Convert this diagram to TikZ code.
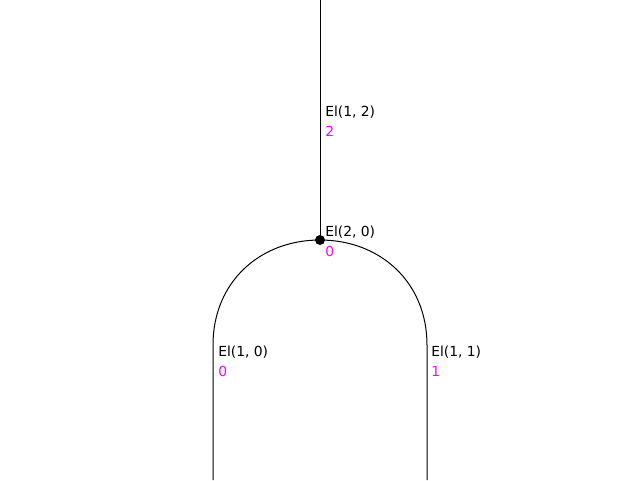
\documentclass[tikz,border=0pt]{standalone}
\usepackage{fontspec}
\setmainfont{DejaVu Sans}
\definecolor{mag}{RGB}{255,0,255}
\begin{document}
\begin{tikzpicture}[x=0.75pt,y=-0.75pt,
  edge/.style={draw=black,line width=0.75pt},
  lbl/.style={anchor=base west,inner sep=0pt,font=\fontsize{10.4}{12}\selectfont},
  num/.style={lbl,text=mag}]
\useasboundingbox (0,0) rectangle (640,480);
\coordinate (top) at (320,0);
\node[circle,fill=black,inner sep=0pt,minimum size=7.5pt] (v) at (320,240) {};
\coordinate (lb) at (213,480);
\coordinate (rb) at (427,480);
\coordinate (lm) at (213,345);
\coordinate (rm) at (427,345);
\draw[edge] (top) -- (v.center);
\draw[edge] (v.center) .. controls (260,240) and (213,282) .. (lm) -- (lb);
\draw[edge] (v.center) .. controls (380,240) and (427,282) .. (rm) -- (rb);
\node[lbl] (t12) at (325,116) {El(1, 2)};
\node[num] (n12) at (325,136) {2};
\node[lbl] (t20) at (325,236) {El(2, 0)};
\node[num] (n20) at (325,256) {0};
\node[lbl] (t10) at (218,356) {El(1, 0)};
\node[num] (n10) at (218,376) {0};
\node[lbl] (t11) at (431,356) {El(1, 1)};
\node[num] (n11) at (431,376) {1};
\end{tikzpicture}
\end{document}
